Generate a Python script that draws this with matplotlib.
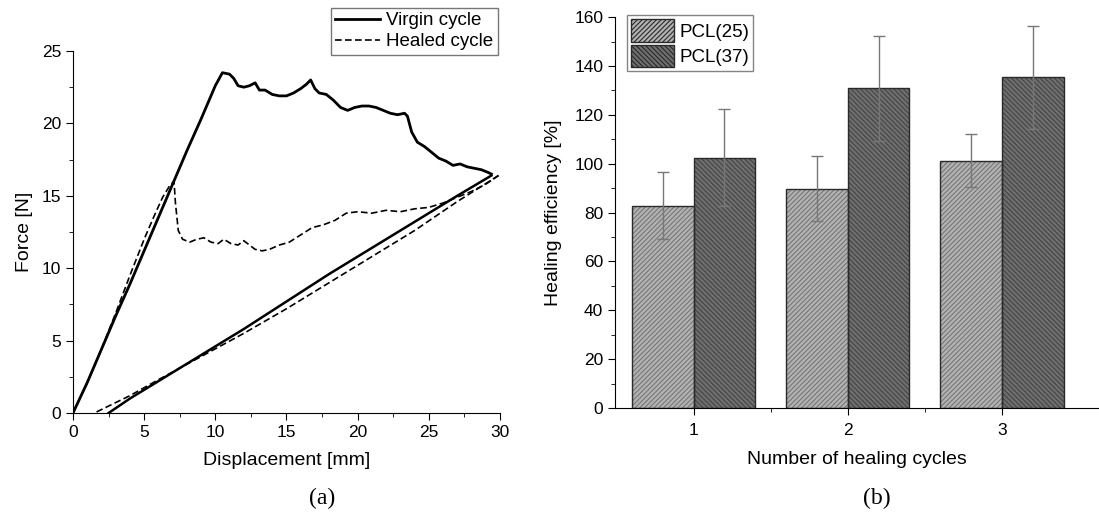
import numpy as np
import matplotlib
matplotlib.use("Agg")
import matplotlib.pyplot as plt
from matplotlib.ticker import MultipleLocator, FixedLocator

plt.rcParams["font.family"] = ["Liberation Sans", "DejaVu Sans"]
plt.rcParams["hatch.linewidth"] = 0.8

# ---- (a) force vs displacement ----
virgin_x = [0, 1, 2, 3, 4, 5, 6, 7, 8, 9, 10, 10.5, 11, 11.3, 11.6, 12, 12.4, 12.8, 13.1, 13.5,
            14, 14.5, 15, 15.5, 16, 16.4, 16.7, 17, 17.3, 17.8, 18.3, 18.8, 19.3, 19.8, 20.3,
            20.8, 21.3, 21.8, 22.3, 22.8, 23.3, 23.5, 23.8, 24.2, 24.7, 25.2, 25.7, 26.2, 26.7,
            27.2, 27.7, 28.2, 28.7, 29.2, 29.4]
virgin_y = [0, 2.1, 4.4, 6.7, 8.9, 11.2, 13.5, 15.8, 18.1, 20.3, 22.6, 23.5, 23.4, 23.1, 22.6,
            22.5, 22.6, 22.8, 22.3, 22.3, 22.0, 21.9, 21.9, 22.1, 22.4, 22.7, 23.0, 22.4, 22.1,
            22.0, 21.6, 21.1, 20.9, 21.1, 21.2, 21.2, 21.1, 20.9, 20.7, 20.6, 20.7, 20.5, 19.4,
            18.7, 18.4, 18.0, 17.6, 17.4, 17.1, 17.2, 17.0, 16.9, 16.8, 16.6, 16.5]
virgin_unload_x = [29.4, 27, 24, 21, 18, 15, 12, 9, 6, 4, 2.5]
virgin_unload_y = [16.4, 15.0, 13.2, 11.4, 9.6, 7.7, 5.8, 4.0, 2.2, 1.0, 0]

healed_x = [0, 1, 2, 3, 4, 5, 5.7, 6.3, 6.8, 7.1, 7.2, 7.4, 7.7, 8.2, 8.7, 9.2, 9.7, 10.2, 10.6,
            11.1, 11.6, 12.0, 12.4, 12.8, 13.3, 13.8, 14.5, 15.2, 16, 16.8, 17.6, 18.4, 19.2,
            20, 21, 22, 23, 24, 25, 26, 27, 28, 29, 29.9]
healed_y = [0, 2.1, 4.4, 6.9, 9.5, 12.0, 13.6, 14.9, 15.7, 16.0, 14.5, 12.6, 12.0, 11.8, 12.0,
            12.1, 11.8, 11.7, 12.0, 11.7, 11.6, 11.9, 11.6, 11.3, 11.2, 11.3, 11.6, 11.8, 12.3,
            12.8, 13.0, 13.3, 13.8, 13.9, 13.8, 14.0, 13.9, 14.1, 14.2, 14.5, 14.9, 15.3, 15.8,
            16.4]
healed_unload_x = [29.9, 27, 24, 21, 18, 15, 12, 9, 6, 4, 1.5]
healed_unload_y = [16.4, 14.6, 12.6, 10.8, 9.0, 7.2, 5.5, 3.9, 2.3, 1.2, 0]

# ---- (b) healing efficiency ----
cycles = [1, 2, 3]
pcl25 = [82.7, 89.8, 101.2]
pcl25_err = [13.7, 13.4, 10.8]
pcl37 = [102.4, 130.8, 135.3]
pcl37_err = [19.8, 21.4, 21.0]

fig = plt.figure(figsize=(10.99, 5.15), dpi=100)

ax1 = fig.add_axes([0.0664, 0.198, 0.3885, 0.703])
ax1.plot(virgin_x, virgin_y, color="black", lw=2.0, label="Virgin cycle")
ax1.plot(virgin_unload_x, virgin_unload_y, color="black", lw=1.8)
ax1.plot(healed_x, healed_y, color="black", lw=1.2, ls=(0, (4, 2)), label="Healed cycle")
ax1.plot(healed_unload_x, healed_unload_y, color="black", lw=1.2, ls=(0, (4, 2)))
ax1.set_xlim(0, 30)
ax1.set_ylim(0, 25)
ax1.spines["top"].set_visible(False)
ax1.spines["right"].set_visible(False)
ax1.xaxis.set_major_locator(MultipleLocator(5))
ax1.xaxis.set_minor_locator(MultipleLocator(2.5))
ax1.yaxis.set_major_locator(MultipleLocator(5))
ax1.yaxis.set_minor_locator(MultipleLocator(2.5))
ax1.tick_params(which="major", length=5, labelsize=12.5)
ax1.tick_params(which="minor", length=3)
ax1.set_xlabel("Displacement [mm]", fontsize=14, labelpad=9)
ax1.set_ylabel("Force [N]", fontsize=14, labelpad=6)
leg1 = ax1.legend(loc="upper right", bbox_to_anchor=(0.995, 1.12), fontsize=13.5,
                  handlelength=2.4, borderpad=0.25, labelspacing=0.2, handletextpad=0.3,
                  borderaxespad=0, fancybox=False, edgecolor="#555555")
leg1.get_frame().set_linewidth(1.0)

ax2 = fig.add_axes([0.5596, 0.2078, 0.4404, 0.759])
x = np.array(cycles)
w = 0.4
b1 = ax2.bar(x - w / 2, pcl25, width=w, color="#b2b2b2", edgecolor="#777777", hatch="///////",
             lw=0, label="PCL(25)")
b2 = ax2.bar(x + w / 2, pcl37, width=w, color="#6f6f6f", edgecolor="#444444", hatch="\\\\\\\\\\\\\\",
             lw=0, label="PCL(37)")
ax2.bar(x - w / 2, pcl25, width=w, fill=False, edgecolor="#2a2a2a", lw=1.0)
ax2.bar(x + w / 2, pcl37, width=w, fill=False, edgecolor="#2a2a2a", lw=1.0)
ax2.errorbar(x - w / 2, pcl25, yerr=pcl25_err, fmt="none", ecolor="#777777", elinewidth=1.0,
             capsize=4, capthick=1.0)
ax2.errorbar(x + w / 2, pcl37, yerr=pcl37_err, fmt="none", ecolor="#777777", elinewidth=1.0,
             capsize=4, capthick=1.0)
ax2.set_xlim(0.49, 3.63)
ax2.set_ylim(0, 160)
ax2.spines["top"].set_visible(False)
ax2.spines["right"].set_visible(False)
ax2.set_xticks(cycles)
ax2.xaxis.set_minor_locator(FixedLocator([1.5, 2.5]))
ax2.yaxis.set_major_locator(MultipleLocator(20))
ax2.yaxis.set_minor_locator(MultipleLocator(10))
ax2.tick_params(which="major", length=5, labelsize=12.5)
ax2.tick_params(which="minor", length=3)
ax2.tick_params(axis="x", pad=6)
ax2.set_xlabel("Number of healing cycles", fontsize=14, labelpad=9)
ax2.set_ylabel("Healing efficiency [%]", fontsize=14, labelpad=9)
leg2 = ax2.legend(handles=[b1, b2], loc="upper left", bbox_to_anchor=(0.025, 1.005), fontsize=13.5,
                  handlelength=2.3, handleheight=1.5, borderpad=0.2, labelspacing=0.15,
                  handletextpad=0.3, borderaxespad=0, fancybox=False, edgecolor="#666666")
for p in leg2.get_patches():
    p.set_edgecolor("#2a2a2a")
    p.set_linewidth(1.0)

fig.text(0.293, 0.022, "(a)", fontsize=17, ha="center", family="Liberation Serif")
fig.text(0.798, 0.022, "(b)", fontsize=17, ha="center", family="Liberation Serif")

fig.savefig("out.png", dpi=100)
